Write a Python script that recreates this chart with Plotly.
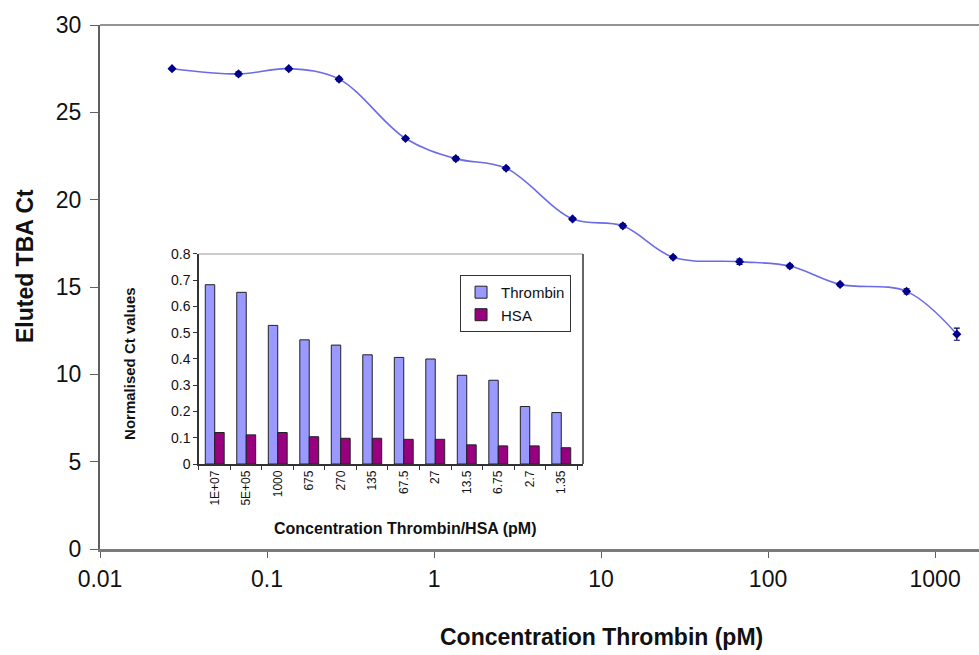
import plotly.graph_objects as go

# ---------------- data ----------------
conc_pm = [0.027, 0.0675, 0.135, 0.27, 0.675, 1.35, 2.7, 6.75, 13.5, 27, 67.5, 135, 270, 675, 1350]
eluted_ct = [27.5, 27.2, 27.5, 26.9, 23.5, 22.35, 21.8, 18.9, 18.5, 16.7, 16.45, 16.2, 15.15, 14.75, 12.3]
ct_err = [0.05, 0.12, 0.08, 0.1, 0.08, 0.12, 0.1, 0.08, 0.12, 0.08, 0.15, 0.1, 0.08, 0.15, 0.35]

main_tickvals = [0.01, 0.1, 1, 10, 100, 1000]
main_ticktext = ["0.01", "0.1", "1", "10", "100", "1000"]

inset_cats = ["1E+07", "5E+05", "1000", "675", "270", "135", "67.5", "27", "13.5", "6.75", "2.7", "1.35"]
thrombin_norm = [0.683, 0.654, 0.528, 0.473, 0.453, 0.416, 0.406, 0.400, 0.338, 0.319, 0.219, 0.196]
hsa_norm = [0.120, 0.111, 0.120, 0.104, 0.098, 0.098, 0.094, 0.094, 0.073, 0.069, 0.069, 0.062]

FONT = "Liberation Sans, Arial, sans-serif"

fig = go.Figure()

fig.add_trace(go.Scatter(
    x=conc_pm, y=eluted_ct, mode="lines+markers",
    line=dict(color="#6b6be8", width=1.6, shape="spline", smoothing=1.0),
    marker=dict(symbol="diamond", size=7, color="#00008b"),
    error_y=dict(type="data", array=ct_err, color="#00005a", thickness=1.2, width=3),
    showlegend=False, xaxis="x", yaxis="y",
))

fig.add_trace(go.Bar(
    x=inset_cats, y=thrombin_norm, name="Thrombin",
    marker=dict(color="#9999ff", line=dict(color="#222222", width=1)),
    xaxis="x2", yaxis="y2",
))
fig.add_trace(go.Bar(
    x=inset_cats, y=hsa_norm, name="HSA",
    marker=dict(color="#990080", line=dict(color="#222222", width=1)),
    xaxis="x2", yaxis="y2",
))

# inset domain (paper coordinates)
ix0, ix1 = 0.1126, 0.5495
iy0, iy1 = 0.1622, 0.563

fig.update_layout(
    width=979, height=655,
    margin=dict(l=100, r=0, t=25, b=106),
    paper_bgcolor="white", plot_bgcolor="white",
    font=dict(family=FONT, color="#111111"),
    barmode="group", bargap=0.4, bargroupgap=0,
    xaxis=dict(
        type="log", range=[-2, 3.263], tickvals=main_tickvals, ticktext=main_ticktext,
        ticks="outside", ticklen=6, tickcolor="#606060", tickwidth=1,
        showline=True, linecolor="#7a7a7a", linewidth=3,
        showgrid=False, zeroline=False, tickfont=dict(size=23, color="#111111"),
        ticklabelstandoff=1,
    ),
    yaxis=dict(
        range=[0, 30], dtick=5, ticks="outside", ticklen=8, tickcolor="#606060",
        showline=True, linecolor="#606060", linewidth=2,
        showgrid=False, zeroline=False, tickfont=dict(size=23, color="#111111"),
        ticklabelstandoff=4,
    ),
    xaxis2=dict(
        domain=[ix0, ix1], anchor="y2", type="category", range=[-0.5, 11.69],
        ticks="outside", ticklen=4, tickson="boundaries", tickcolor="#333333",
        tickangle=-90, tickfont=dict(size=12, color="#111111"),
        showline=True, linecolor="#333333", linewidth=1.5, showgrid=False,
    ),
    yaxis2=dict(
        domain=[iy0, iy1], anchor="x2", range=[0, 0.8], dtick=0.1,
        ticks="outside", ticklen=4, tickcolor="#333333",
        tickfont=dict(size=14, color="#111111"),
        showline=True, linecolor="#333333", linewidth=1.5, showgrid=False, zeroline=False,
    ),
    legend=dict(
        x=0.4096, y=0.523, xanchor="left", yanchor="top",
        bordercolor="#333333", borderwidth=1, bgcolor="white",
        font=dict(size=15, color="#111111"), itemwidth=30, tracegroupgap=0,
    ),
    shapes=[
        dict(type="line", xref="paper", yref="paper", x0=0, x1=1, y0=1, y1=1,
             line=dict(color="#707070", width=1.5)),
        dict(type="line", xref="paper", yref="paper", x0=ix0, x1=ix1, y0=iy1, y1=iy1,
             line=dict(color="#9a9a9a", width=1.2)),
        dict(type="line", xref="paper", yref="paper", x0=ix1, x1=ix1, y0=iy0, y1=iy1,
             line=dict(color="#333333", width=1.5)),
    ],
    annotations=[
        dict(text="<b>Concentration Thrombin (pM)</b>", xref="paper", yref="paper",
             x=0.571, y=-0.168, xanchor="center", yanchor="middle", showarrow=False,
             font=dict(size=23, color="#111111")),
        dict(text="<b>Eluted TBA Ct</b>", xref="paper", yref="paper",
             x=-0.0853, y=0.540, xanchor="center", yanchor="middle", showarrow=False,
             textangle=-90, font=dict(size=23, color="#111111")),
        dict(text="<b>Normalised Ct values</b>", xref="paper", yref="paper",
             x=0.0341, y=0.355, xanchor="center", yanchor="middle", showarrow=False,
             textangle=-90, font=dict(size=15, color="#111111")),
        dict(text="<b>Concentration Thrombin/HSA (pM)</b>", xref="paper", yref="paper",
             x=0.348, y=0.040, xanchor="center", yanchor="middle", showarrow=False,
             font=dict(size=16, color="#111111")),
    ],
)

fig.write_html(
    "out.html",
    config={"displayModeBar": False},
    post_script="document.body.style.margin='0';document.body.style.padding='0';",
)
